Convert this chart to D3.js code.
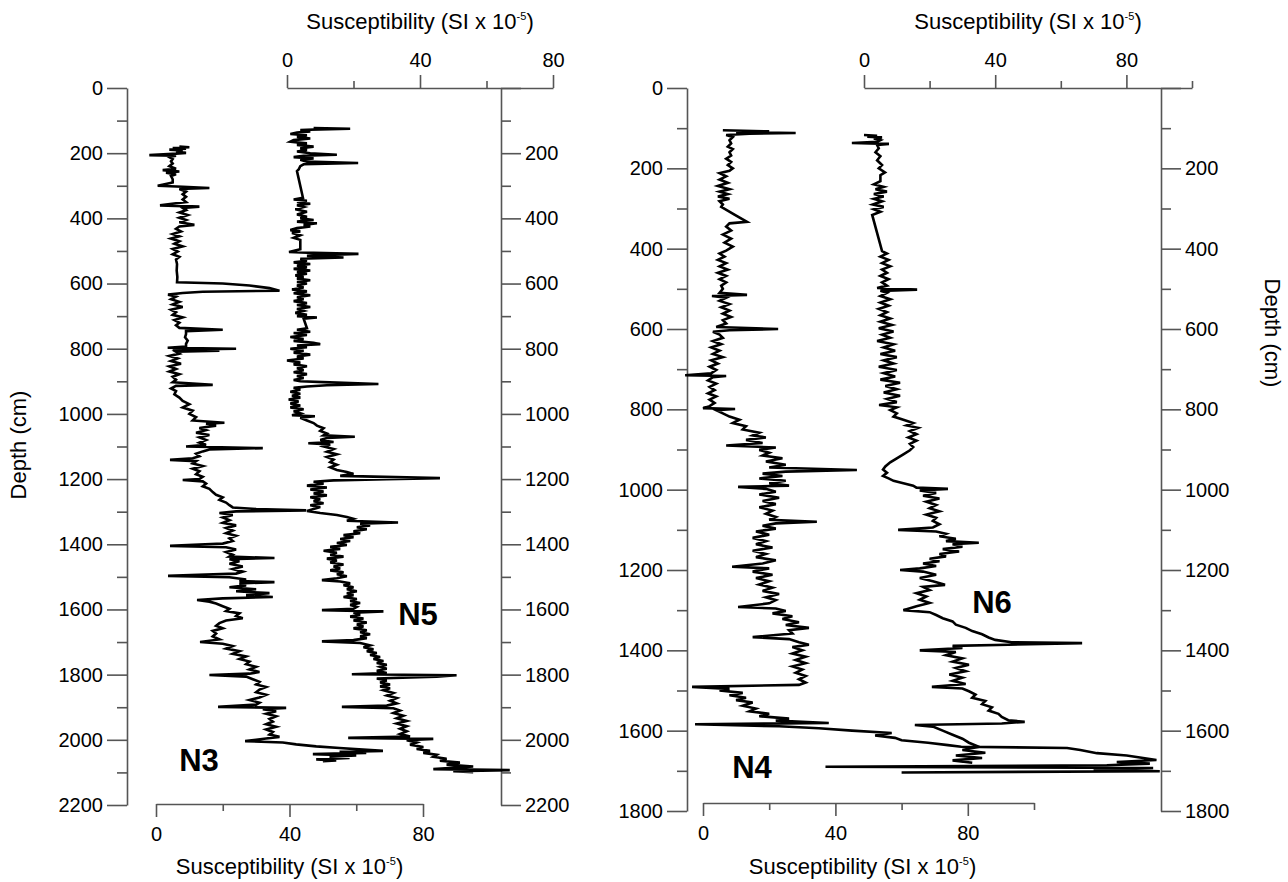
<!DOCTYPE html>
<html>
<head>
<meta charset="utf-8">
<script src="https://cdn.jsdelivr.net/npm/d3@7"></script>
<style>
  body { margin: 0; background: #fff; }
  svg { display: block; font-family: "Liberation Sans", Arial, sans-serif; }
  .axis path, .axis line { stroke: #555; stroke-width: 1.6; }
  .axis text { font-family: "Liberation Sans", Arial, sans-serif; font-size: 20px; fill: #000; }
  .title { font-size: 22px; fill: #000; }
  .core { font-size: 31px; font-weight: bold; fill: #000; }
  .trace { fill: none; stroke: #000; stroke-width: 2.6; }
</style>
</head>
<body>
<svg id="chart" width="1288" height="882"></svg>
<script>
// depth (cm), susceptibility (SI x 10^-5)
const n3Core = [
  [180, 7], [182, 10], [184, 5], [186, 9], [189, 4], [192, 8], [195, 6], [199, 9], [202, 5], [206, -2],
  [208, 6], [212, 4], [218, 5], [225, 4.5], [232, 5], [240, 4], [248, 6], [252, 2], [256, 7], [260, 3],
  [265, 6], [270, 4.5], [280, 5], [290, 5], [300, 0.5], [303, 8], [307, 16], [310, 7], [318, 9], [326, 8],
  [334, 9], [342, 8], [350, 9], [360, 1.2], [364, 13], [368, 8], [375, 9], [382, 7], [390, 9.5], [398, 7],
  [405, 9], [412, 7], [420, 11.5], [425, 7], [432, 6], [440, 7.5], [448, 5], [455, 7], [462, 4.5], [470, 7],
  [478, 5.5], [486, 8], [494, 5], [502, 6.5], [510, 5], [518, 7], [526, 6], [540, 6.3], [560, 6.2], [580, 6.4],
  [596, 6.3], [600, 20], [606, 28], [614, 34], [622, 37], [625, 14], [629, 8], [634, 3.6], [640, 6], [648, 4.5],
  [656, 7], [664, 5], [672, 8], [680, 4.5], [688, 6], [696, 5], [704, 8], [712, 5.5], [720, 7], [728, 6],
  [736, 7], [742, 20], [746, 9], [755, 9], [765, 8.7], [775, 9.5], [785, 9], [793, 9], [797, 3.5], [800, 24],
  [803, 5], [806, 19], [809, 6], [815, 7], [822, 4], [830, 6.5], [838, 4.5], [846, 7.5], [854, 4], [862, 6],
  [870, 4], [878, 7], [886, 5], [895, 6], [903, 5], [911, 17], [914, 6], [922, 4.5], [930, 6], [940, 5.5],
  [950, 7], [960, 8], [970, 10], [980, 8], [990, 11], [1000, 10], [1010, 12], [1020, 11], [1027, 20.5], [1030, 15],
  [1036, 18], [1043, 13], [1050, 15], [1058, 12], [1065, 16], [1072, 13], [1080, 15], [1088, 13], [1095, 15], [1100, 9],
  [1105, 32], [1109, 16], [1115, 14], [1122, 12], [1130, 13], [1136, 11], [1141, 4.2], [1145, 12], [1152, 11], [1160, 14],
  [1168, 11], [1176, 13], [1185, 12], [1193, 14], [1200, 13], [1203, 8], [1207, 14], [1214, 15], [1222, 14], [1230, 16],
  [1240, 17], [1248, 18], [1256, 20], [1264, 19], [1272, 21], [1280, 22], [1287, 23], [1292, 30], [1296, 45], [1299, 24],
  [1304, 19], [1310, 23], [1318, 20], [1326, 22], [1334, 20], [1342, 24], [1350, 21], [1358, 23], [1366, 21], [1374, 24],
  [1382, 22], [1390, 23], [1398, 20], [1405, 4.2], [1409, 21], [1416, 24], [1424, 21], [1432, 23], [1438, 22], [1442, 35.5],
  [1446, 22], [1452, 25], [1460, 22], [1468, 26], [1476, 23], [1484, 26], [1490, 24], [1497, 3.6], [1501, 22], [1508, 27],
  [1513, 25], [1516, 35.5], [1520, 25], [1526, 27], [1532, 22], [1538, 30], [1544, 24], [1550, 34], [1556, 27], [1562, 35],
  [1566, 20], [1571, 12.3], [1576, 16], [1582, 18], [1590, 20], [1598, 22], [1605, 21], [1612, 25], [1620, 24], [1627, 26],
  [1634, 21], [1642, 19], [1650, 18], [1658, 20], [1666, 17], [1674, 18], [1683, 17], [1692, 19], [1700, 13.2], [1705, 20],
  [1712, 23], [1720, 21], [1728, 25], [1736, 23], [1744, 27], [1752, 25], [1760, 28], [1768, 27], [1776, 30], [1784, 28],
  [1792, 31], [1797, 28], [1801, 16], [1806, 27], [1814, 29], [1822, 31], [1830, 30], [1838, 33], [1846, 31], [1854, 30],
  [1862, 33], [1870, 31], [1878, 28], [1886, 31], [1892, 30], [1899, 18.6], [1902, 39], [1906, 32], [1912, 36], [1920, 33],
  [1928, 36], [1936, 34], [1944, 35], [1952, 33], [1960, 36], [1968, 33], [1976, 35], [1984, 34], [1991, 37], [1996, 33],
  [2004, 26.7], [2008, 38], [2014, 42], [2020, 48], [2025, 55], [2030, 62], [2034, 68], [2037, 55], [2040, 63], [2044, 47],
  [2048, 60], [2052, 52], [2056, 58], [2060, 48], [2063, 54], [2066, 50]
];

const n5Core = [
  [123, 8], [125, 19], [127, 10], [129, 4], [133, 7], [137, 3], [141, 1], [145, 6], [150, 3], [155, 7],
  [160, 2], [165, 1], [170, 6], [175, 3], [180, 8], [185, 4], [190, 6], [195, 3], [200, 7], [205, 15],
  [208, 5], [212, 2], [216, 8], [220, 4], [226, 6], [230, 21.4], [234, 5], [240, 4], [250, 3.5], [255, 3],
  [337, 4.8], [342, 2], [346, 6], [350, 3], [355, 7], [360, 3], [365, 5], [372, 2.5], [380, 6], [388, 3],
  [395, 6], [400, 4], [405, 8], [410, 3], [415, 9], [420, 5], [425, 7], [430, 3], [436, 1], [440, 4],
  [445, 1.5], [452, 4], [460, 2], [466, 4], [480, 4], [495, 4], [503, 0.6], [506, 8], [509, 21.5], [512, 12],
  [515, 6], [520, 17], [524, 4], [530, 6], [535, 2], [540, 7], [545, 3], [550, 6], [555, 2], [560, 7],
  [565, 3], [570, 6], [575, 2.5], [580, 5], [585, 3], [590, 7], [595, 3], [600, 6], [606, 3], [612, 5],
  [618, 1.5], [624, 6], [630, 2], [636, 7], [642, 3], [648, 5], [654, 2], [660, 6], [666, 3], [672, 7],
  [678, 3], [684, 5], [690, 2.5], [696, 6], [700, 3], [704, 9], [708, 5], [737, 6], [742, 3], [748, 7],
  [752, 2], [758, 6], [764, 1], [770, 5], [776, 2], [782, 8], [786, 10], [790, 3], [795, 6], [800, 1],
  [806, 5], [812, 2], [818, 7], [824, 3], [830, 5], [836, 0], [842, 4], [848, 2], [854, 6], [860, 3],
  [866, 5], [872, 2], [878, 6], [884, 3], [890, 5], [896, 2], [900, 4], [904, 15], [908, 27.5], [912, 12],
  [916, 6], [920, 2], [926, 4], [932, 1], [938, 4], [944, 1.5], [950, 4], [956, 0.5], [962, 3.5], [968, 1],
  [974, 4], [980, 1], [986, 5], [992, 2], [998, 4], [1004, 1.5], [1007, 8.4], [1012, 4], [1020, 6], [1028, 8],
  [1036, 9], [1044, 11], [1052, 10], [1060, 12], [1066, 11], [1070, 20.4], [1074, 12], [1080, 10], [1086, 14], [1090, 6.4],
  [1094, 13], [1100, 11], [1108, 14], [1116, 12], [1124, 15], [1132, 12], [1140, 14], [1148, 13], [1156, 15], [1164, 13],
  [1172, 15], [1178, 18], [1184, 20], [1190, 16], [1197, 46], [1200, 30], [1204, 14], [1208, 8], [1214, 11], [1220, 6],
  [1226, 12], [1232, 7], [1238, 11], [1244, 8], [1250, 12], [1256, 7], [1262, 10], [1268, 8], [1274, 11], [1280, 7],
  [1286, 10], [1292, 8], [1298, 6], [1304, 10], [1310, 15], [1316, 18], [1322, 20], [1328, 18], [1333, 33.4], [1337, 22],
  [1342, 25], [1348, 21], [1354, 24], [1360, 20], [1366, 22], [1372, 17], [1378, 20], [1384, 16], [1390, 19], [1396, 15],
  [1402, 18], [1408, 13], [1414, 16], [1420, 11], [1426, 15], [1432, 13], [1438, 17], [1444, 12], [1450, 15], [1456, 13],
  [1462, 17], [1468, 14], [1474, 16], [1480, 13], [1486, 17], [1492, 15], [1498, 18], [1504, 15], [1510, 10.5], [1514, 16],
  [1520, 19], [1526, 17], [1532, 20], [1538, 18], [1544, 21], [1550, 18], [1556, 20], [1562, 17], [1568, 21], [1574, 19],
  [1580, 22], [1586, 19], [1592, 21], [1598, 20], [1602, 10.5], [1606, 29], [1610, 20], [1616, 22], [1622, 19], [1628, 23],
  [1634, 20], [1640, 24], [1646, 21], [1652, 23], [1658, 20], [1664, 24], [1670, 22], [1676, 25], [1682, 22], [1688, 24],
  [1694, 20], [1698, 10.5], [1703, 22], [1710, 25], [1716, 23], [1722, 26], [1728, 24], [1734, 27], [1740, 25], [1746, 28],
  [1752, 26], [1758, 29], [1764, 27], [1770, 30], [1776, 28], [1782, 30], [1788, 27], [1795, 30], [1799, 19.5], [1802, 51],
  [1806, 45], [1812, 27], [1818, 30], [1824, 28], [1830, 31], [1836, 28], [1842, 31], [1848, 29], [1856, 32], [1864, 30],
  [1872, 33], [1880, 31], [1888, 33], [1895, 30], [1899, 16.5], [1903, 32], [1910, 34], [1918, 32], [1926, 35], [1934, 33],
  [1942, 36], [1950, 33], [1958, 36], [1966, 34], [1974, 36], [1982, 34], [1990, 37], [1994, 18.4], [1997, 44], [2001, 36],
  [2008, 39], [2015, 37], [2022, 41], [2028, 39], [2034, 43], [2040, 41], [2046, 45], [2052, 44], [2058, 48], [2064, 46],
  [2070, 52], [2076, 48], [2082, 56], [2086, 50], [2090, 44], [2093, 67], [2096, 50], [2099, 56]
];

const n4Core = [
  [105, 6], [108, 20], [110, 10], [112, 28], [114, 14], [117, 7], [122, 9], [130, 8], [138, 8.5], [146, 7.5],
  [152, 9], [160, 8], [168, 8.5], [176, 7], [184, 8.5], [192, 7.5], [200, 9], [206, 8], [212, 5], [220, 7],
  [228, 5], [236, 7.5], [244, 4.5], [252, 8], [258, 5], [264, 7.5], [270, 4.5], [276, 8], [282, 5], [290, 6],
  [296, 5.5], [315, 9.5], [333, 13.3], [337, 8], [345, 7], [355, 8.5], [365, 6], [375, 8.5], [385, 6.5], [395, 9],
  [405, 7], [412, 5], [420, 6.5], [428, 4.5], [436, 7], [444, 5], [452, 7.5], [460, 4.5], [468, 7], [476, 5],
  [484, 7], [492, 5.5], [500, 6], [510, 5], [515, 13.3], [518, 2.7], [522, 7], [530, 5], [538, 8], [546, 5.5],
  [554, 8], [562, 6], [570, 8.5], [578, 6], [586, 7], [595, 4], [600, 22.7], [603, 8], [607, 3], [614, 5],
  [622, 6], [630, 3], [638, 5.5], [646, 2.5], [654, 5], [662, 3], [670, 6], [678, 2.5], [686, 4.5], [694, 2],
  [702, 4], [710, 2.5], [715, -5.4], [717, 7], [720, 3], [728, 1.5], [736, 4], [744, 2], [752, 3.5], [760, 1.5],
  [768, 4], [776, 2], [784, 3.5], [792, 2], [797, 0], [799, 9.7], [802, 4], [810, 6], [818, 8], [826, 11],
  [834, 9], [842, 13], [850, 12], [858, 17], [865, 15], [870, 19], [876, 13], [884, 18], [890, 7], [895, 22],
  [901, 17], [908, 20], [915, 18], [922, 24], [930, 19], [938, 25], [945, 20], [951, 46.5], [955, 25], [960, 18],
  [966, 24], [972, 17], [978, 25], [984, 20], [990, 26], [993, 10.6], [998, 19], [1005, 22], [1012, 17], [1020, 23],
  [1028, 18], [1036, 22], [1044, 17], [1052, 21], [1060, 19], [1068, 22], [1075, 20], [1080, 34.4], [1084, 22], [1090, 18],
  [1097, 22], [1104, 16], [1112, 20], [1120, 15], [1128, 19], [1136, 16], [1144, 21], [1152, 15], [1160, 19], [1168, 16],
  [1176, 22], [1184, 18], [1192, 8.8], [1196, 20], [1204, 15], [1212, 21], [1220, 16], [1228, 20], [1236, 17], [1244, 21],
  [1252, 18], [1260, 23], [1268, 19], [1275, 22], [1283, 20], [1292, 10.6], [1296, 22], [1302, 25], [1308, 21], [1315, 27],
  [1322, 24], [1330, 29], [1337, 25], [1344, 32], [1350, 26], [1358, 27], [1367, 15], [1372, 26], [1380, 29], [1386, 32],
  [1392, 27], [1400, 30], [1408, 27], [1416, 31], [1424, 28], [1432, 31], [1440, 27], [1448, 30], [1456, 28], [1464, 31],
  [1472, 29], [1480, 31], [1486, 29], [1491, -3.3], [1496, 8], [1500, 5], [1506, 12], [1512, 8], [1518, 13], [1524, 10],
  [1530, 15], [1538, 12], [1545, 16], [1552, 14], [1558, 20], [1564, 17], [1570, 26], [1575, 22], [1581, 38], [1584, -2.4],
  [1589, 23], [1594, 35], [1600, 45], [1606, 57], [1612, 52], [1618, 58], [1624, 60], [1630, 68], [1636, 74], [1640, 78],
  [1643, 110], [1648, 114], [1656, 119], [1662, 128], [1668, 133], [1673, 137], [1678, 125], [1682, 135], [1686, 122], [1690, 37],
  [1693, 136], [1697, 118], [1701, 138], [1704, 60]
];

const n6Core = [
  [117, 0], [119, 4], [121, 1], [123, 5.5], [126, 3], [130, 5], [134, 4], [137, -3.7], [139, 7.6], [142, 4],
  [150, 4.5], [160, 3.5], [170, 5], [180, 4], [192, 5.5], [200, 4.5], [210, 6.4], [217, 5], [232, 5], [240, 3],
  [246, 6], [252, 3.5], [258, 7], [264, 3], [270, 6], [276, 3], [282, 5.5], [290, 2.7], [296, 6], [302, 3],
  [308, 5], [316, 2.5], [406, 5.5], [412, 7], [420, 5], [428, 7.5], [436, 5.5], [444, 8], [452, 5.5], [460, 7],
  [468, 5], [476, 7.5], [484, 5.5], [492, 7], [498, 4], [502, 16.2], [505, 5], [510, 7], [518, 5], [526, 8],
  [534, 5], [542, 7.5], [550, 4.5], [558, 7], [566, 5], [574, 8], [582, 5], [590, 8.5], [598, 4.5], [606, 9],
  [614, 5.5], [622, 8], [630, 4], [638, 9], [646, 6], [654, 9.5], [662, 5], [670, 10], [678, 6], [686, 9],
  [694, 4.5], [702, 10], [710, 6], [718, 9.5], [726, 5], [734, 11], [742, 6.5], [750, 10], [758, 6], [766, 11],
  [774, 7], [782, 10], [789, 4.6], [795, 10], [802, 8], [810, 10], [818, 9], [826, 12], [834, 15], [840, 13],
  [846, 16.5], [854, 14], [862, 16], [870, 13.5], [878, 16], [886, 14], [894, 15], [902, 14], [912, 12], [922, 10],
  [932, 8], [942, 6.5], [950, 5.8], [958, 7], [966, 5.8], [972, 7.5], [978, 9], [984, 12], [990, 15], [995, 16],
  [998, 25.6], [1002, 17], [1008, 22], [1015, 18], [1022, 23], [1030, 19], [1038, 22], [1046, 20], [1054, 23], [1062, 19],
  [1070, 22], [1078, 21], [1086, 23], [1094, 21], [1100, 10.4], [1104, 22], [1110, 25], [1116, 23], [1122, 28], [1128, 25],
  [1132, 35], [1136, 27], [1142, 30], [1148, 24], [1154, 29], [1160, 23], [1166, 25], [1172, 20], [1178, 23], [1184, 18],
  [1190, 22], [1196, 17], [1200, 11], [1204, 18], [1212, 22], [1220, 17], [1228, 21], [1237, 24.7], [1242, 18], [1250, 20],
  [1258, 16], [1266, 19], [1274, 17], [1282, 20], [1290, 16], [1300, 12], [1305, 20], [1312, 22], [1320, 24], [1328, 27],
  [1336, 28], [1344, 31], [1352, 33], [1360, 36], [1368, 38], [1374, 40], [1380, 45], [1382, 66.5], [1386, 44], [1389, 27],
  [1394, 30], [1400, 17], [1404, 28], [1412, 25], [1420, 30], [1428, 27], [1436, 32], [1444, 28], [1452, 31], [1460, 26],
  [1468, 30], [1476, 27], [1484, 31], [1491, 20.7], [1495, 30], [1502, 32], [1510, 34], [1518, 33], [1526, 37], [1534, 36],
  [1542, 39], [1550, 38], [1558, 41], [1566, 42], [1574, 44], [1578, 49], [1582, 42], [1586, 15.5], [1590, 21], [1600, 24],
  [1610, 27], [1620, 30], [1630, 32], [1640, 35], [1648, 30], [1655, 37], [1662, 28], [1668, 36], [1674, 27], [1680, 33]
];

const suscMajor = [0, 40, 80];
const titleText = 'Susceptibility (SI x 10';

const svg = d3.select('#chart');

// left panel: N3 (bottom / left) and N5 (top / right)
const yLeft = d3.scaleLinear().domain([0, 2200]).range([88, 805]);
const xN3 = d3.scaleLinear().domain([0, 80]).range([156, 423]);
const xN5 = d3.scaleLinear().domain([0, 80]).range([287, 553]);

// right panel: N4 (bottom / left) and N6 (top / right)
const yRight = d3.scaleLinear().domain([0, 1800]).range([88, 811]);
const xN4 = d3.scaleLinear().domain([0, 100]).range([703, 1034]);
const xN6 = d3.scaleLinear().domain([0, 100]).range([864, 1192]);

const depthAxis = (scale, x, side, max, skipZero) => {
    const make = side === 'left' ? d3.axisLeft : d3.axisRight;
    const g = svg.append('g').attr('class', 'axis').attr('transform', `translate(${x},0)`);
    g.append('g').call(make(scale).tickValues(d3.range(100, max, 200)).tickSize(10).tickSizeOuter(0).tickFormat(''));
    const major = g.append('g').call(make(scale).tickValues(d3.range(0, max + 1, 200))
        .tickSize(20).tickSizeOuter(0).tickPadding(4)
        .tickFormat(d => (skipZero && d === 0) ? '' : d));
    major.select('.domain').remove();
};

const valueAxis = (scale, y, side, max) => {
    const make = side === 'top' ? d3.axisTop : d3.axisBottom;
    const g = svg.append('g').attr('class', 'axis').attr('transform', `translate(0,${y})`);
    g.append('g').call(make(scale).tickValues(d3.range(20, max + 1, 40)).tickSize(7).tickSizeOuter(0).tickFormat(''));
    const major = g.append('g').call(make(scale).tickValues(suscMajor).tickSize(13).tickSizeOuter(0)
        .tickPadding(side === 'top' ? 8 : 10));
    major.select('.domain').remove();
};

const suscTitle = (x, y) => {
    const t = svg.append('text').attr('class', 'title')
        .attr('x', x).attr('y', y).attr('text-anchor', 'middle');
    t.append('tspan').text(titleText);
    t.append('tspan').attr('dy', -9).attr('font-size', 11).text('-5');
    t.append('tspan').attr('dy', 9).text(')');
};

depthAxis(yLeft, 127, 'left', 2200, false);
depthAxis(yLeft, 501, 'right', 2200, true);
valueAxis(xN3, 804, 'bottom', 80);
valueAxis(xN5, 88, 'top', 80);

depthAxis(yRight, 687, 'left', 1800, false);
depthAxis(yRight, 1161, 'right', 1800, true);
valueAxis(xN4, 803, 'bottom', 100);
valueAxis(xN6, 88, 'top', 100);

suscTitle((xN5(0) + xN5(80)) / 2, 29);
suscTitle((xN3(0) + xN3(80)) / 2, 874);
suscTitle((xN6(0) + xN6(100)) / 2, 29);
suscTitle((xN4(0) + xN4(100)) / 2 - 6, 874);

svg.append('text').attr('class', 'title')
    .attr('transform', 'translate(26,445) rotate(-90)')
    .attr('text-anchor', 'middle').text('Depth (cm)');
svg.append('text').attr('class', 'title')
    .attr('transform', 'translate(1265,333) rotate(90)')
    .attr('text-anchor', 'middle').text('Depth (cm)');

const trace = (data, xs, ys) => {
    svg.append('path').datum(data).attr('class', 'trace')
        .attr('d', d3.line().x(d => xs(d[1])).y(d => ys(d[0])));
};

trace(n3Core, xN3, yLeft);
trace(n5Core, xN5, yLeft);
trace(n4Core, xN4, yRight);
trace(n6Core, xN6, yRight);

const labels = [
    {name: 'N3', x: 199, y: 771},
    {name: 'N5', x: 418, y: 625},
    {name: 'N4', x: 752, y: 778},
    {name: 'N6', x: 992, y: 613}
];
svg.selectAll('.core').data(labels).enter().append('text')
    .attr('class', 'core')
    .attr('x', d => d.x).attr('y', d => d.y)
    .attr('text-anchor', 'middle')
    .text(d => d.name);
</script>
</body>
</html>
